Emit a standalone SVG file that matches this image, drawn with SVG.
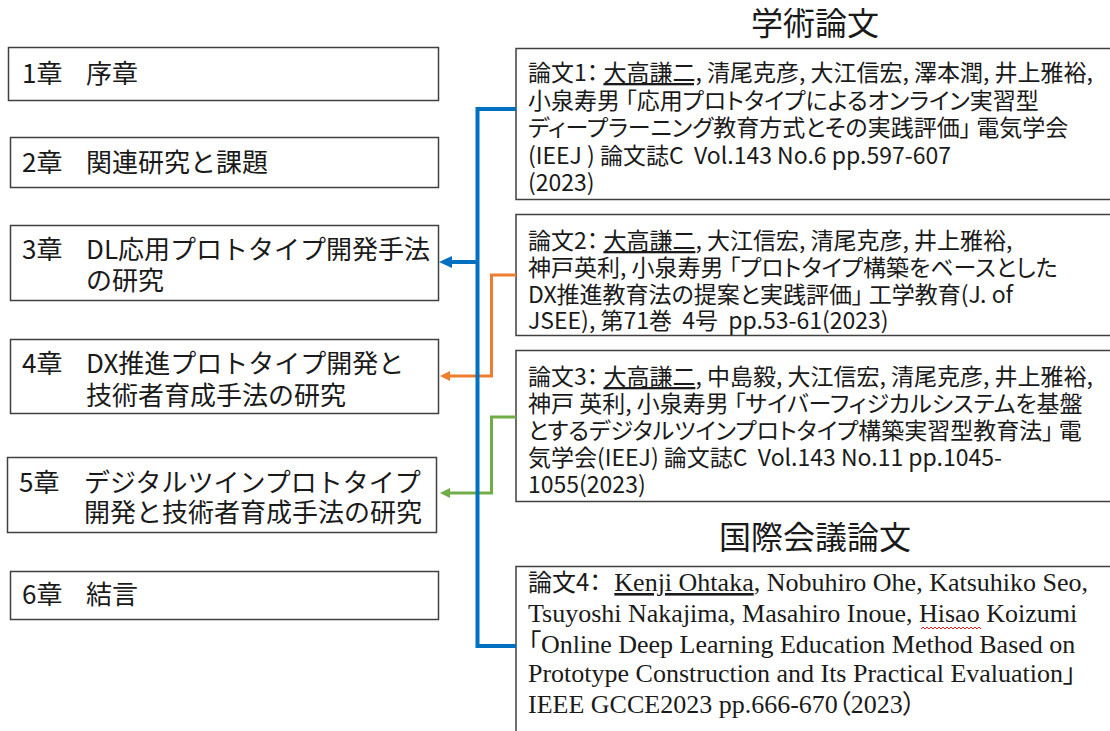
<svg xmlns="http://www.w3.org/2000/svg" width="1110" height="731" viewBox="0 0 1110 731">
<defs>
<style>
.box{fill:#fff;stroke:#404040;stroke-width:1.5}
.ch{font-family:"Noto Sans CJK JP",sans-serif;font-size:26px;fill:#1a1a1a}
.pp{font-family:"Noto Sans CJK JP",sans-serif;font-size:23px;fill:#1a1a1a;font-feature-settings:"palt" 1}
.en{font-family:"Liberation Serif","Noto Sans CJK JP",serif;font-size:26px;fill:#1a1a1a;font-feature-settings:"palt" 1}
.jg{font-family:"Noto Sans CJK JP",sans-serif;font-size:24px}
.ttl{font-family:"Noto Sans CJK JP",sans-serif;font-size:32px;fill:#1a1a1a;text-anchor:middle}
.u{text-decoration:underline}
.cb{fill:none;stroke:#0070C0;stroke-width:4}
.co{fill:none;stroke:#ED7D31;stroke-width:3}
.cg{fill:none;stroke:#70AD47;stroke-width:3}
</style>
<marker id="mb" markerUnits="userSpaceOnUse" markerWidth="14" markerHeight="14" refX="0" refY="7" orient="auto"><path d="M0,1 L13,7 L0,13 z" fill="#0070C0"/></marker>
<marker id="mo" markerUnits="userSpaceOnUse" markerWidth="12" markerHeight="12" refX="0" refY="6" orient="auto"><path d="M0,1 L10,6 L0,11 z" fill="#ED7D31"/></marker>
<marker id="mg" markerUnits="userSpaceOnUse" markerWidth="12" markerHeight="12" refX="0" refY="6" orient="auto"><path d="M0,1 L10,6 L0,11 z" fill="#70AD47"/></marker>
</defs>
<rect width="1110" height="731" fill="#fff"/>

<g id="ch1"><rect class="box" x="8.5" y="47.5" width="430" height="53"/><text class="ch" x="22" y="83">1章<tspan x="86">序章</tspan></text></g>
<g id="ch2"><rect class="box" x="10.5" y="137.5" width="428" height="50"/><text class="ch" x="22" y="172">2章<tspan x="86">関連研究と課題</tspan></text></g>
<g id="ch3"><rect class="box" x="10.5" y="225.5" width="428" height="75"/><text class="ch" x="22" y="259">3章<tspan x="86">DL応用プロトタイプ開発手法</tspan></text><text class="ch" x="86" y="290">の研究</text></g>
<g id="ch4"><rect class="box" x="10.5" y="339.5" width="428" height="74"/><text class="ch" x="22" y="373">4章<tspan x="86">DX推進プロトタイプ開発と</tspan></text><text class="ch" x="86" y="405">技術者育成手法の研究</text></g>
<g id="ch5"><rect class="box" x="7.5" y="457.5" width="429" height="75"/><text class="ch" x="19" y="492">5章<tspan x="84">デジタルツインプロトタイプ</tspan></text><text class="ch" x="84" y="522">開発と技術者育成手法の研究</text></g>
<g id="ch6"><rect class="box" x="10.5" y="571.5" width="428" height="48"/><text class="ch" x="22" y="604">6章<tspan x="86">結言</tspan></text></g>

<g id="title1"><text class="ttl" x="815" y="35">学術論文</text></g>
<g id="title2"><text class="ttl" x="815" y="549">国際会議論文</text></g>

<g id="paper1"><rect class="box" x="516" y="48.5" width="620" height="151"/>
<text class="pp" x="528" y="81">論文1： <tspan class="u">大高謙二,</tspan> 清尾克彦, 大江信宏, 澤本潤, 井上雅裕,</text>
<text class="pp" x="528" y="108.5">小泉寿男 「応用プロトタイプによるオンライン実習型</text>
<text class="pp" x="528" y="136">ディープラーニング教育方式とその実践評価」 電気学会</text>
<text class="pp" x="528" y="163.5" xml:space="preserve">(IEEJ ) 論文誌C  Vol.143 No.6 pp.597-607</text>
<text class="pp" x="528" y="191">(2023)</text>
</g>
<g id="paper2"><rect class="box" x="516" y="214.5" width="620" height="121"/>
<text class="pp" x="528" y="249">論文2： <tspan class="u">大高謙二</tspan>, 大江信宏, 清尾克彦, 井上雅裕,</text>
<text class="pp" x="528" y="276">神戸英利, 小泉寿男 「プロトタイプ構築をベースとした</text>
<text class="pp" x="528" y="303">DX推進教育法の提案と実践評価」 工学教育(J. of</text>
<text class="pp" x="528" y="329" xml:space="preserve">JSEE), 第71巻  4号  pp.53-61(2023)</text>
</g>
<g id="paper3"><rect class="box" x="516" y="350.5" width="620" height="151"/>
<text class="pp" x="528" y="385">論文3： <tspan class="u">大高謙二</tspan>, 中島毅, 大江信宏, 清尾克彦, 井上雅裕,</text>
<text class="pp" x="528" y="412">神戸 英利, 小泉寿男 「サイバーフィジカルシステムを基盤</text>
<text class="pp" x="528" y="439">とするデジタルツインプロトタイプ構築実習型教育法」 電</text>
<text class="pp" x="528" y="466" xml:space="preserve">気学会(IEEJ) 論文誌C  Vol.143 No.11 pp.1045-</text>
<text class="pp" x="528" y="493">1055(2023)</text>
</g>
<g id="paper4"><rect class="box" x="516" y="566.5" width="620" height="180"/>
<text class="en" x="528" y="591" xml:space="preserve"><tspan class="jg">論文4：</tspan>  <tspan class="u">Kenji Ohtaka</tspan>, Nobuhiro Ohe, Katsuhiko Seo,</text>
<text class="en" x="528" y="622">Tsuyoshi Nakajima, Masahiro Inoue, Hisao Koizumi</text>
<text class="en" x="528" y="653">「Online Deep Learning Education Method Based on</text>
<text class="en" x="528" y="682">Prototype Construction and Its Practical Evaluation」</text>
<text class="en" x="528" y="713">IEEE GCCE2023 pp.666-670（2023）</text>
<path d="M921,629 l2,-2 l2,2 l2,-2 l2,2 l2,-2 l2,2 l2,-2 l2,2 l2,-2 l2,2 l2,-2 l2,2 l2,-2 l2,2 l2,-2 l2,2 l2,-2 l2,2 l2,-2 l2,2 l2,-2 l2,2 l2,-2 l2,2 l2,-2 l2,2 l2,-2 l2,2 l2,-2 l2,2" fill="none" stroke="#e02020" stroke-width="1"/>
</g>

<g id="connectors">
<path class="co" d="M516,275 H491.5 V376 H450" marker-end="url(#mo)"/>
<path class="cg" d="M516,417 H491.5 V493 H450" marker-end="url(#mg)"/>
<path class="cb" d="M516,109 H477.5 V646 H516"/>
<path class="cb" d="M479,262 H452" stroke-width="5" marker-end="url(#mb)"/>
</g>
</svg>
